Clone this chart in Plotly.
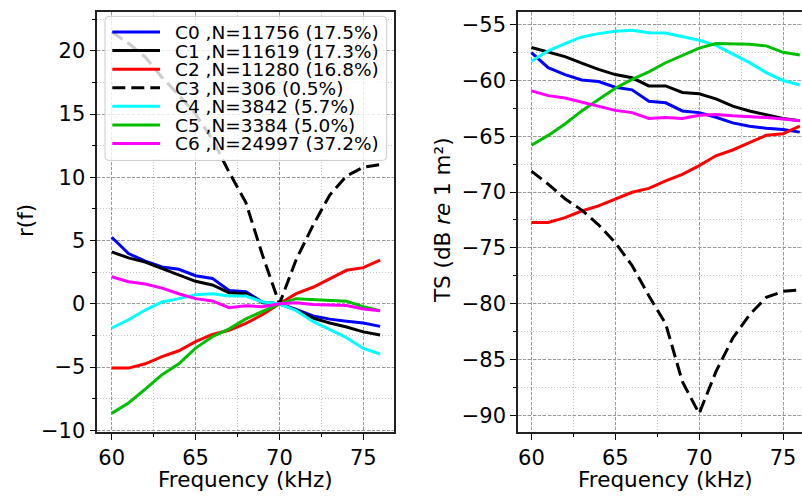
import plotly.graph_objects as go

W, H = 802, 503

# ---------------- data ----------------
freq = [60, 61, 62, 63, 64, 65, 66, 67, 68, 69, 70, 71, 72, 73, 74, 75, 76]

cluster_names = ["C0", "C1", "C2", "C3", "C4", "C5", "C6"]
cluster_counts = [11756, 11619, 11280, 306, 3842, 3384, 24997]
cluster_pcts = [17.5, 17.3, 16.8, 0.5, 5.7, 5.0, 37.2]

# relative frequency response r(f)
rf_c0 = [5.26, 3.97, 3.38, 2.91, 2.73, 2.22, 2.01, 1.06, 0.95, 0.13, 0.0, -0.44, -0.95, -1.21, -1.37, -1.52, -1.78]
rf_c1 = [4.10, 3.63, 3.30, 2.78, 2.29, 1.78, 1.49, 0.88, 0.80, 0.08, 0.0, -0.49, -1.13, -1.52, -1.83, -2.22, -2.47]
rf_c2 = [-5.08, -5.08, -4.74, -4.18, -3.71, -2.99, -2.42, -2.09, -1.55, -0.85, 0.0, 0.80, 1.31, 1.96, 2.65, 2.86, 3.45]
rf_c3 = [21.5, 20.6, 19.5, 17.9, 16.5, 15.0, 13.0, 10.4, 8.0, 3.8, 0.0, 3.5, 6.2, 8.6, 10.1, 10.8, 11.0]
rf_c4 = [-1.91, -1.26, -0.49, 0.15, 0.41, 0.72, 0.80, 0.62, 0.62, 0.15, 0.0, -0.54, -1.39, -2.04, -2.68, -3.53, -3.97]
rf_c5 = [-8.66, -7.84, -6.75, -5.60, -4.74, -3.50, -2.60, -1.98, -1.19, -0.62, 0.0, 0.41, 0.34, 0.28, 0.21, -0.23, -0.54]
rf_c6 = [2.14, 1.75, 1.57, 1.24, 0.80, 0.41, 0.23, -0.31, -0.15, -0.23, 0.0, 0.08, -0.05, -0.10, -0.13, -0.41, -0.54]

# target strength TS (dB re 1 m^2)
ts_c0 = [-57.51, -58.85, -59.47, -59.96, -60.10, -60.60, -60.84, -61.86, -62.00, -62.73, -62.88, -63.30, -63.80, -64.10, -64.28, -64.40, -64.63]
ts_c1 = [-57.04, -57.48, -57.86, -58.44, -59.00, -59.47, -59.76, -60.49, -60.49, -61.07, -61.19, -61.65, -62.30, -62.73, -63.08, -63.40, -63.60]
ts_c2 = [-72.73, -72.73, -72.29, -71.70, -71.24, -70.60, -70.02, -69.67, -69.00, -68.41, -67.63, -66.75, -66.23, -65.58, -64.91, -64.77, -64.10]
ts_c3 = [-68.12, -69.29, -70.60, -71.62, -72.93, -74.54, -76.58, -79.30, -81.80, -87.00, -89.85, -86.10, -83.10, -81.00, -79.44, -78.90, -78.77]
ts_c4 = [-58.27, -57.34, -56.70, -56.10, -55.80, -55.58, -55.50, -55.73, -55.75, -56.10, -56.40, -56.85, -57.60, -58.40, -59.30, -60.00, -60.40]
ts_c5 = [-65.80, -64.92, -63.90, -62.73, -61.71, -60.69, -59.90, -59.23, -58.41, -57.77, -57.10, -56.69, -56.75, -56.75, -56.90, -57.48, -57.71]
ts_c6 = [-60.93, -61.36, -61.57, -61.95, -62.30, -62.68, -62.88, -63.40, -63.32, -63.40, -63.11, -63.06, -63.17, -63.23, -63.32, -63.46, -63.60]

rf_series = [rf_c0, rf_c1, rf_c2, rf_c3, rf_c4, rf_c5, rf_c6]
ts_series = [ts_c0, ts_c1, ts_c2, ts_c3, ts_c4, ts_c5, ts_c6]

x_tick_vals = [60, 65, 70, 75]
rf_tick_vals = [-10, -5, 0, 5, 10, 15, 20]
ts_tick_vals = [-90, -85, -80, -75, -70, -65, -60, -55]

# ---------------- styles ----------------
colors = ["#0000ff", "#000000", "#ff0000", "#000000", "#00ffff", "#00bf00", "#ff00ff"]
dashes = ["solid", "solid", "solid", "13px,6px", "solid", "solid", "solid"]
FONT = "DejaVu Sans"
LW = 3


def xp(px):
    # window pixel -> paper fraction
    return px / W


def yp(py):
    return 1 - py / H


fig = go.Figure()
for i in range(7):
    fig.add_trace(go.Scatter(x=freq, y=rf_series[i], mode="lines",
                             line=dict(color=colors[i], width=LW, dash=dashes[i]),
                             xaxis="x", yaxis="y", showlegend=False))
for i in range(7):
    fig.add_trace(go.Scatter(x=freq, y=ts_series[i], mode="lines",
                             line=dict(color=colors[i], width=LW, dash=dashes[i]),
                             xaxis="x2", yaxis="y2", showlegend=False))

ydom = [yp(441.5), yp(12)]


def axis_style(tickvals, rng, domain, mirror, anchor):
    return dict(
        domain=domain, range=rng, anchor=anchor,
        tickmode="array", tickvals=tickvals,
        ticks="outside", ticklen=6, tickwidth=1.3, tickcolor="black",
        tickfont=dict(family=FONT, size=21, color="black"),
        showline=True, linecolor="#222", linewidth=1.5, mirror=mirror,
        showgrid=True, gridcolor="#9a9a9a", gridwidth=1, griddash="3px,2px",
        zeroline=False,
        minor=dict(dtick=2.5, ticks="outside", ticklen=3.5, tickwidth=1, tickcolor="black",
                   showgrid=True, gridcolor="#c4c4c4", gridwidth=1, griddash="1px,2px"),
    )


xa1 = axis_style(x_tick_vals, [59.14, 76.8], [xp(97.3), xp(393.5)], True, "y")
xa1["minor"]["tick0"] = 60
ya1 = axis_style(rf_tick_vals, [-10.12, 23.09], ydom, True, "x")
ya1["minor"]["tick0"] = 0
xa2 = axis_style(x_tick_vals, [59.2, 76.13], [xp(518), 1.0], True, "y2")
xa2["minor"]["tick0"] = 60
ya2 = axis_style(ts_tick_vals, [-91.49, -53.84], ydom, False, "x2")
ya2["minor"]["tick0"] = -90

fig.update_layout(
    width=W, height=H,
    margin=dict(l=0, r=0, t=0, b=0),
    paper_bgcolor="white", plot_bgcolor="white",
    showlegend=False,
    xaxis=xa1, yaxis=ya1, xaxis2=xa2, yaxis2=ya2,
    font=dict(family=FONT, color="black"),
)

# axis titles
title_font = dict(family=FONT, size=21.5, color="black")
anns = [
    dict(text="Frequency (kHz)", x=xp(245.4), y=yp(490), xref="paper", yref="paper",
         xanchor="center", yanchor="middle", showarrow=False, font=title_font),
    dict(text="Frequency (kHz)", x=xp(665), y=yp(490), xref="paper", yref="paper",
         xanchor="center", yanchor="middle", showarrow=False, font=title_font),
    dict(text="r(f)", x=xp(25), y=yp(226), xref="paper", yref="paper", textangle=-90,
         xanchor="center", yanchor="middle", showarrow=False, font=title_font),
    dict(text="TS (dB <i>re</i> 1 m²)", x=xp(442), y=yp(225), xref="paper", yref="paper",
         textangle=-90, xanchor="center", yanchor="middle", showarrow=False, font=title_font),
]

# legend (drawn manually to match the compact matplotlib legend)
lx0, lx1, ly0, ly1, r = 105, 386.7, 16.7, 164, 4
path = (f"M {xp(lx0 + r)},{yp(ly0)} L {xp(lx1 - r)},{yp(ly0)} "
        f"Q {xp(lx1)},{yp(ly0)} {xp(lx1)},{yp(ly0 + r)} L {xp(lx1)},{yp(ly1 - r)} "
        f"Q {xp(lx1)},{yp(ly1)} {xp(lx1 - r)},{yp(ly1)} L {xp(lx0 + r)},{yp(ly1)} "
        f"Q {xp(lx0)},{yp(ly1)} {xp(lx0)},{yp(ly1 - r)} L {xp(lx0)},{yp(ly0 + r)} "
        f"Q {xp(lx0)},{yp(ly0)} {xp(lx0 + r)},{yp(ly0)} Z")
shapes = [dict(type="path", path=path, xref="paper", yref="paper", layer="above",
               fillcolor="rgba(255,255,255,0.8)", line=dict(color="#cccccc", width=1))]
legend_labels = [f"{n} ,N={c} ({p:.1f}%)" for n, c, p in zip(cluster_names, cluster_counts, cluster_pcts)]
for i, lab in enumerate(legend_labels):
    ry = 32.7 + 19 * i
    shapes.append(dict(type="line", xref="paper", yref="paper", layer="above",
                       x0=xp(112.3), x1=xp(160), y0=yp(ry), y1=yp(ry),
                       line=dict(color=colors[i], width=LW, dash=dashes[i])))
    anns.append(dict(text=lab, x=xp(174), y=yp(ry), xref="paper", yref="paper",
                     xanchor="left", yanchor="middle", showarrow=False,
                     height=18, borderpad=0, valign="middle",
                     font=dict(family=FONT, size=18.5, color="black")))

fig.update_layout(annotations=anns, shapes=shapes)
# pin the figure to the window's top-left corner so it fills the 802x503 window exactly
pin_js = ("var gd=document.getElementById('{plot_id}');"
          "gd.style.position='fixed';gd.style.left='0px';gd.style.top='0px';"
          "document.body.style.margin='0';"
          "document.documentElement.style.overflow='hidden';")
fig.write_html("out.html", config={"displayModeBar": False}, post_script=pin_js)
